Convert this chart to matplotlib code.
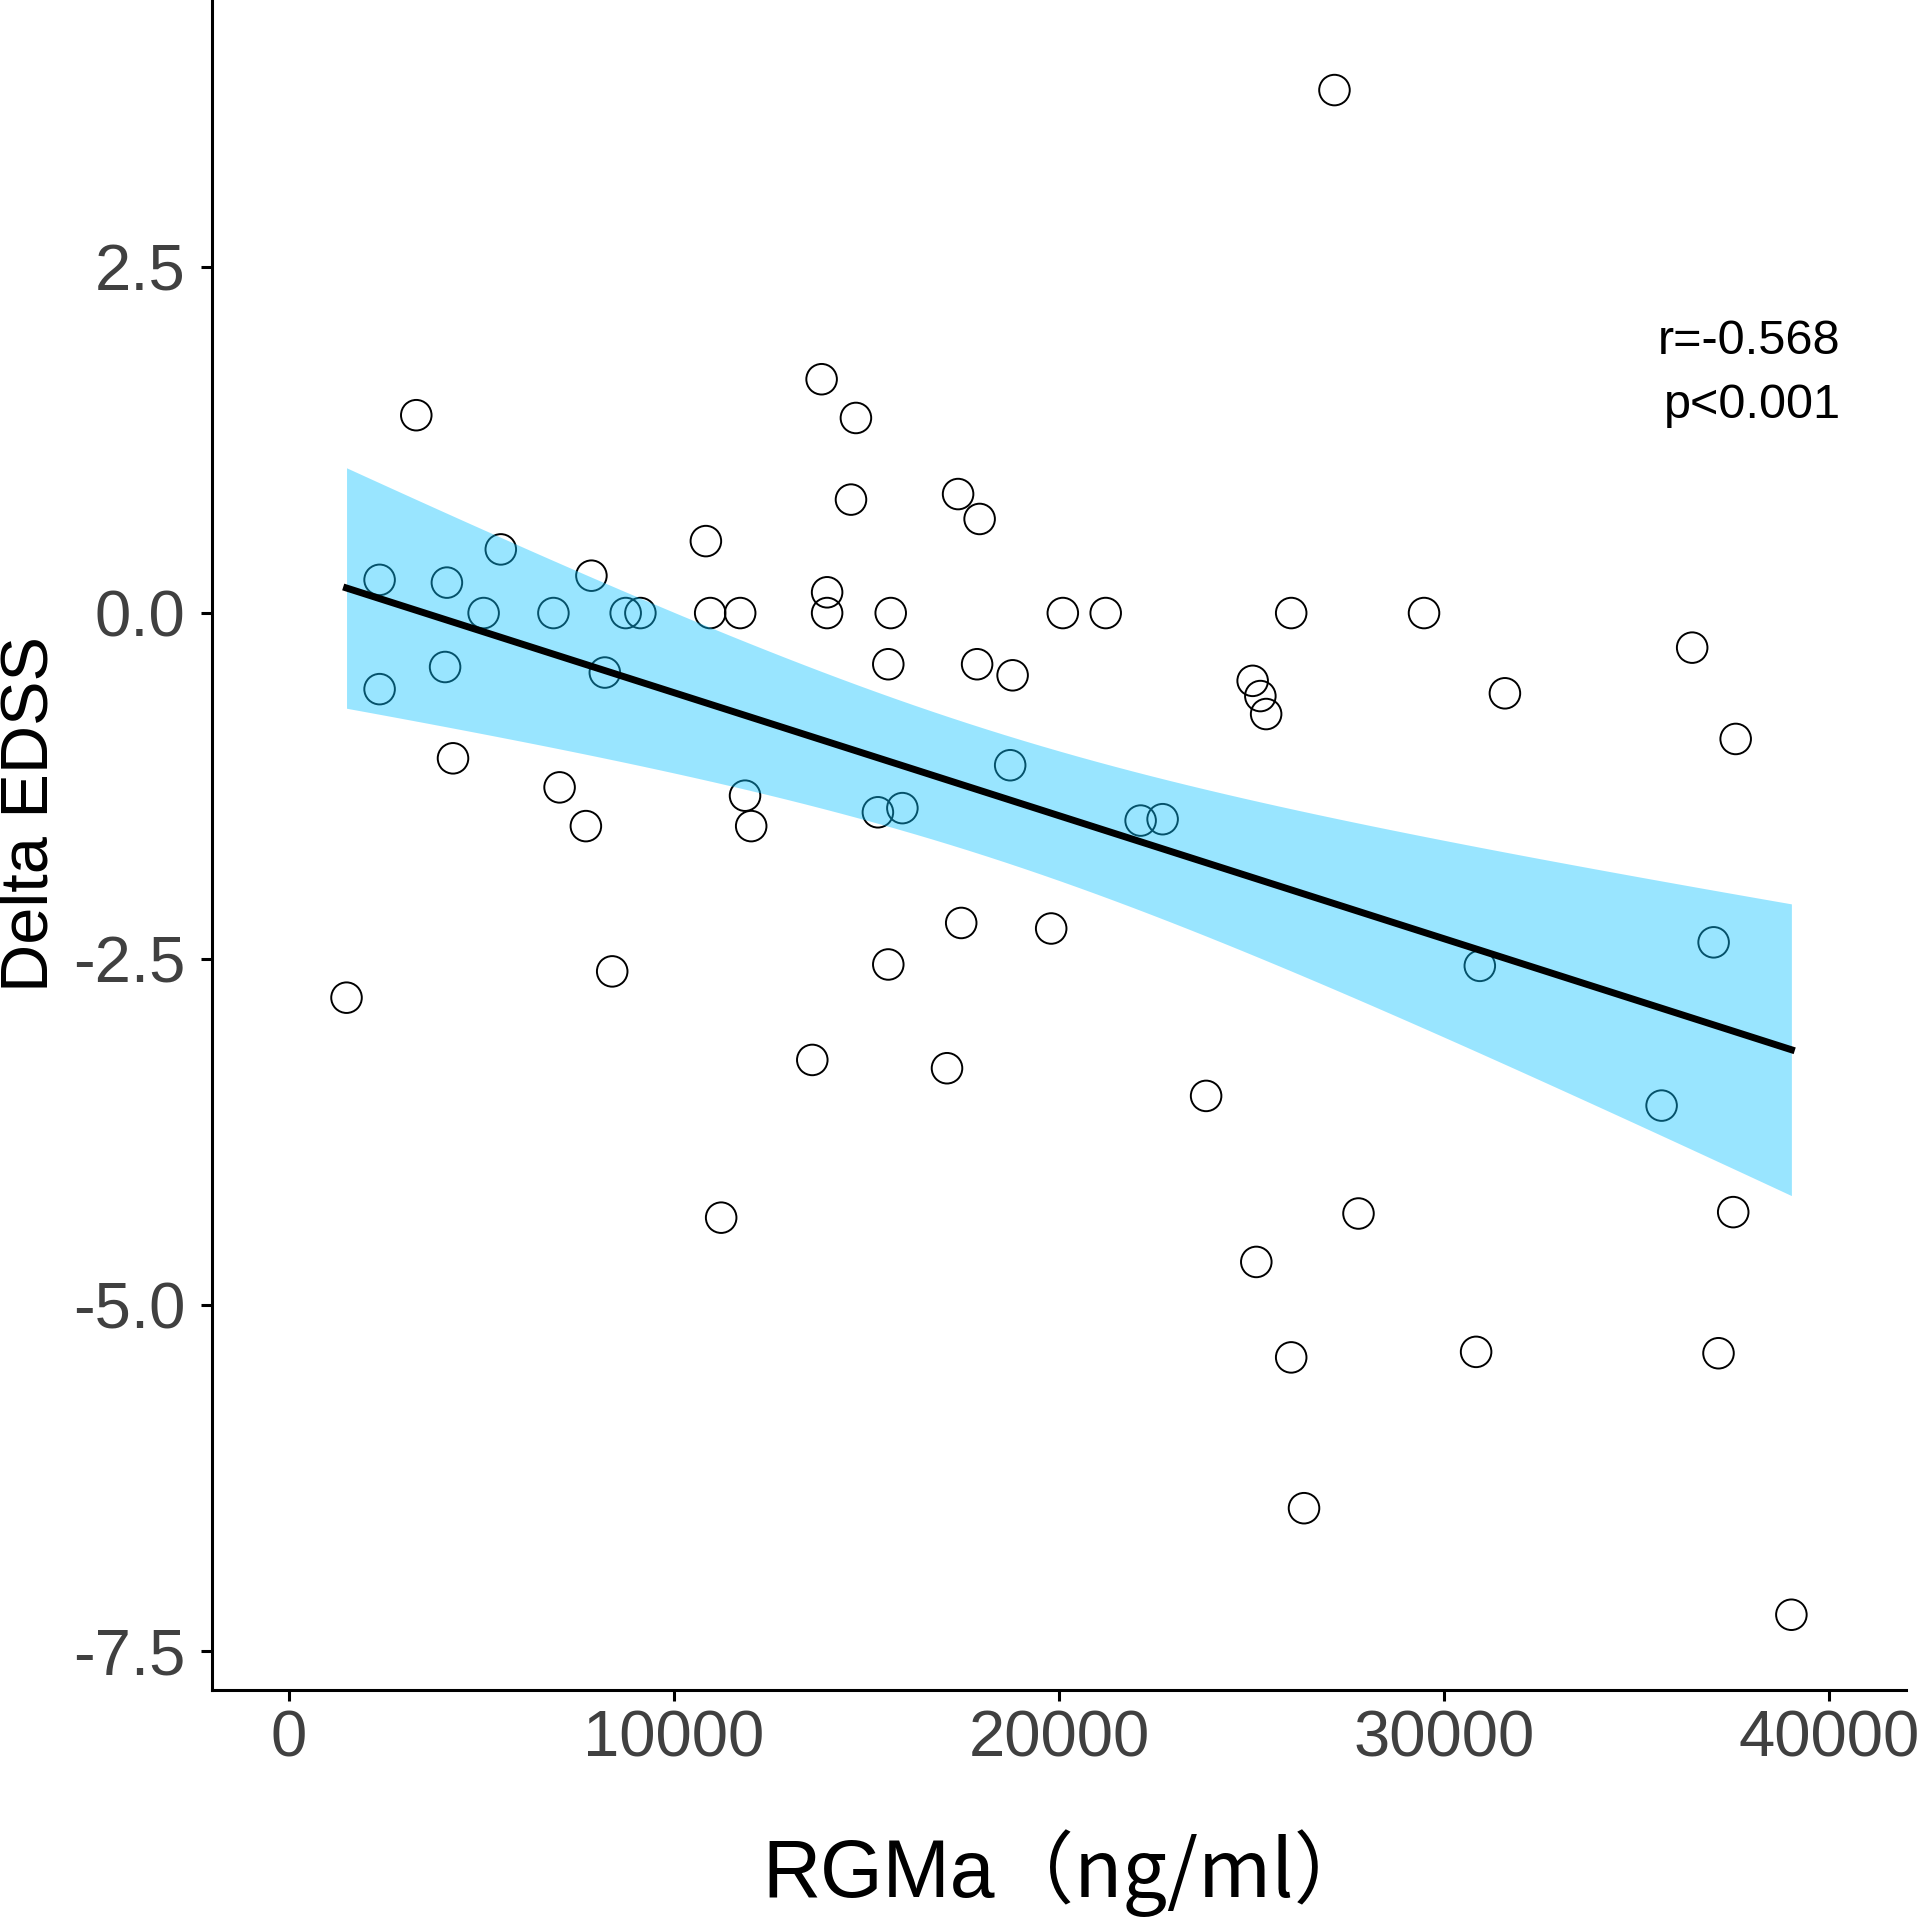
import numpy as np
import matplotlib.pyplot as plt

# RGMa (ng/ml) vs Delta EDSS
rgma = [1494, 2353, 2353, 3306, 4101, 4054, 4260, 5055, 5501, 6868,
        7028, 7711, 7855, 8203, 8395, 8745, 9127, 10828, 10940, 11225,
        11719, 11845, 12005, 13592, 13834, 13977, 13977, 14725, 14597, 15296,
        15566, 15566, 15629, 15932, 17091, 17460, 17379, 17873, 17938, 18732,
        18795, 19797, 20099, 21213, 22120, 22691, 23821, 25030, 25125, 25230,
        25380, 26031, 26031, 26364, 27155, 27779, 29481, 30834, 30930, 31582,
        35652, 36446, 37003, 37130, 37576, 37512, 39023]
delta_edss = [-2.78, 0.24, -0.55, 1.43, 0.22, -0.39, -1.05, 0.0, 0.46, 0.0,
              -1.26, -1.54, 0.27, -0.43, -2.59, 0.0, 0.0, 0.52, 0.0, -4.37,
              0.0, -1.32, -1.54, -3.23, 1.69, 0.15, 0.0, 1.41, 0.82, -1.44,
              -2.54, -0.37, 0.0, -1.41, -3.29, -2.24, 0.86, -0.37, 0.68, -1.10,
              -0.45, -2.28, 0.0, 0.0, -1.50, -1.49, -3.49, -0.49, -4.69, -0.60,
              -0.73, 0.0, -5.38, -6.47, 3.78, -4.34, 0.0, -5.34, -2.55, -0.58,
              -3.56, -0.25, -2.38, -5.35, -0.91, -4.33, -7.24]
stats_text = "r=-0.568\np<0.001"

x = np.array(rgma, dtype=float)
y = np.array(delta_edss)

# linear fit + 95% confidence band (like geom_smooth(method="lm"))
n = len(x)
slope, intercept = np.polyfit(x, y, 1)
resid = y - (slope * x + intercept)
s_err = np.sqrt(np.sum(resid**2) / (n - 2))
sxx = np.sum((x - x.mean())**2)
xs = np.linspace(x.min(), x.max(), 80)
fit = slope * xs + intercept
se = s_err * np.sqrt(1.0 / n + (xs - x.mean())**2 / sxx)
t_crit = 1.997
lo = fit - t_crit * se
hi = fit + t_crit * se

plt.rcParams['font.family'] = ['Liberation Sans', 'DejaVu Sans']

fig = plt.figure(figsize=(19.19, 19.21), dpi=100)
ax = fig.add_axes([212/1919, 231/1921, (1906-212)/1919, 1 - 231/1921])

ax.scatter(x, y, s=22**2, facecolors='none', edgecolors='black',
           linewidths=1.4, zorder=2)
ax.fill_between(xs, lo, hi, color=(12/255, 195/255, 1.0), alpha=0.42,
                lw=0, zorder=3)
ax.plot(xs, fit, color='black', lw=5, zorder=4)

ax.text(40300, 1.73, stats_text, ha='right', va='center',
        multialignment='right', fontsize=35, color='black', linespacing=1.55)

ax.set_xlim(-2000, 42000)
ax.set_ylim(-7.784, 4.431)
ax.set_xticks([0, 10000, 20000, 30000, 40000])
ax.set_yticks([-7.5, -5.0, -2.5, 0.0, 2.5])
ax.set_yticklabels(['-7.5', '-5.0', '-2.5', '0.0', '2.5'])

for side in ['top', 'right']:
    ax.spines[side].set_visible(False)
for side in ['left', 'bottom']:
    ax.spines[side].set_linewidth(2.2)
ax.tick_params(axis='both', length=8, width=2.2, labelsize=47,
               labelcolor='#404040')
ax.tick_params(axis='y', pad=11)
ax.tick_params(axis='x', pad=6)

fig.text(30/1919, (1921-814)/1921, 'Delta EDSS', rotation=90,
         ha='center', va='center', fontsize=48, color='black')
fig.text(995/1919, 24/1921, 'RGMa', ha='right', va='baseline',
         fontsize=58, color='black')
fig.text(995/1919, 24/1921, '（ng/ml）', ha='left', va='baseline',
         fontsize=57, color='black', family=['Noto Sans CJK SC'],
         fontweight='medium')

fig.savefig('out.png', dpi=100)
